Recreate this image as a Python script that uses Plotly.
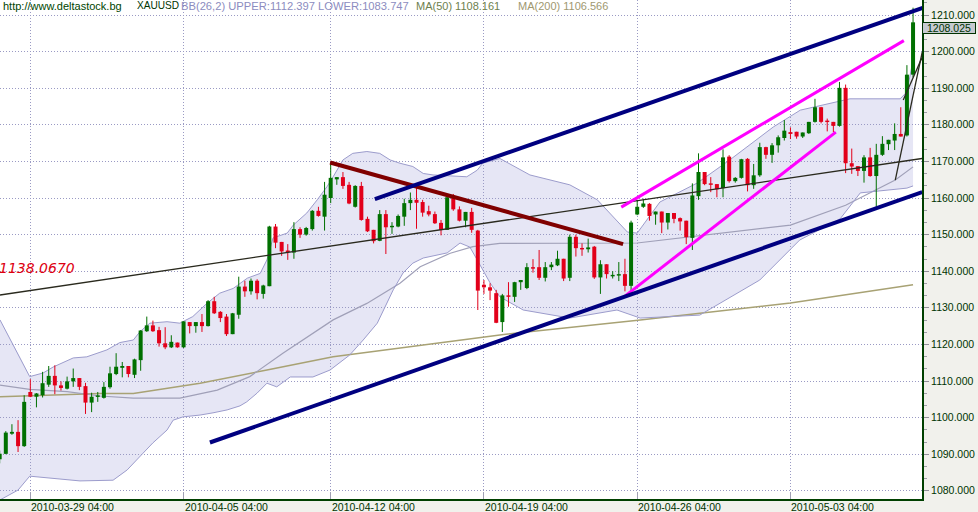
import plotly.graph_objects as go

# ---------------- data ----------------
candle_idx = list(range(-1, 149))
opens = [1088.6, 1090.1, 1095.6, 1096.1, 1092.2, 1107.0, 1105.7, 1106.1, 1109.0, 1111.4,
         1108.8, 1107.9, 1109.9, 1110.8, 1108.6, 1104.1, 1105.7, 1105.4, 1108.3, 1111.9,
         1113.6, 1114.1, 1111.7, 1115.7, 1123.6, 1125.2, 1123.9, 1120.3, 1119.2, 1120.5,
         1119.2, 1126.1, 1125.0, 1126.1, 1125.0, 1131.8, 1128.9, 1127.6, 1122.8, 1128.1,
         1135.8, 1134.5, 1137.4, 1133.8, 1135.9, 1152.2, 1148.0, 1145.6, 1145.1, 1151.5,
         1150.0, 1151.5, 1156.5, 1154.9, 1160.0, 1165.1, 1165.7, 1163.6, 1157.6, 1163.3,
         1154.3, 1151.3, 1148.3, 1155.6, 1152.0, 1152.2, 1154.9, 1158.6, 1159.5, 1158.9,
         1156.4, 1155.6, 1153.2, 1151.3, 1160.2, 1156.9, 1153.8, 1156.2, 1151.1, 1136.3,
         1135.6, 1134.0, 1126.1, 1133.4, 1133.0, 1137.0, 1135.4, 1141.1, 1141.1, 1138.2,
         1141.1, 1141.6, 1143.4, 1138.2, 1149.4, 1146.3, 1146.0, 1146.7, 1138.3, 1141.9,
         1138.6, 1138.8, 1139.2, 1136.0, 1155.5, 1157.6, 1158.4, 1155.5, 1156.3, 1153.3,
         1155.9, 1154.5, 1153.8, 1149.1, 1160.5, 1167.1, 1164.0, 1163.8, 1162.7, 1171.3,
         1164.6, 1165.5, 1170.7, 1163.5, 1166.2, 1173.9, 1171.8, 1174.4, 1176.4, 1178.0,
         1178.1, 1176.8, 1177.7, 1180.8, 1184.8, 1181.1, 1180.8, 1179.7, 1190.1, 1169.5,
         1168.7, 1167.4, 1171.1, 1166.0, 1171.8, 1174.7, 1175.7, 1177.5, 1177.1, 1193.7]
highs = [1091.0, 1096.3, 1098.2, 1099.3, 1106.1, 1110.5, 1106.7, 1112.5, 1114.1, 1114.3,
         1109.9, 1111.2, 1113.4, 1110.8, 1109.5, 1106.8, 1107.0, 1109.7, 1113.9, 1117.6,
         1115.2, 1114.1, 1116.1, 1123.9, 1127.6, 1126.5, 1124.8, 1124.7, 1122.5, 1120.5,
         1126.3, 1126.1, 1126.1, 1128.3, 1132.1, 1133.0, 1129.1, 1128.3, 1128.6, 1138.5,
         1137.4, 1138.0, 1137.8, 1136.3, 1152.4, 1152.9, 1148.0, 1147.4, 1153.4, 1152.0,
         1152.1, 1156.7, 1157.6, 1164.4, 1169.5, 1165.7, 1167.1, 1164.4, 1163.5, 1164.4,
         1154.9, 1151.3, 1156.7, 1156.7, 1153.4, 1155.5, 1159.8, 1161.5, 1163.1, 1159.5,
         1157.9, 1156.3, 1154.0, 1160.8, 1161.1, 1157.7, 1156.2, 1157.3, 1151.3, 1137.6,
         1136.7, 1134.9, 1133.8, 1137.0, 1137.1, 1137.6, 1142.2, 1143.3, 1145.8, 1142.5,
         1142.5, 1145.6, 1143.4, 1150.0, 1150.0, 1147.6, 1148.9, 1146.9, 1143.0, 1141.9,
         1140.0, 1142.5, 1143.4, 1153.8, 1159.5, 1159.8, 1158.6, 1156.3, 1156.3, 1155.9,
         1155.9, 1154.7, 1153.8, 1164.0, 1172.2, 1167.1, 1165.7, 1163.8, 1173.3, 1171.7,
         1165.7, 1170.7, 1170.9, 1169.3, 1175.1, 1174.0, 1175.0, 1177.1, 1181.3, 1179.3,
         1178.1, 1177.9, 1180.8, 1187.1, 1184.9, 1181.7, 1180.8, 1191.7, 1191.0, 1173.5,
         1168.7, 1171.7, 1173.7, 1174.8, 1176.9, 1175.9, 1180.4, 1184.8, 1196.3, 1212.0]
lows = [1087.5, 1090.0, 1095.3, 1090.6, 1092.0, 1105.6, 1102.8, 1105.5, 1108.4, 1106.4,
        1107.4, 1107.7, 1108.4, 1107.5, 1101.0, 1101.5, 1104.3, 1105.2, 1107.9, 1111.6,
        1111.0, 1111.0, 1110.8, 1112.8, 1123.4, 1123.4, 1119.4, 1118.7, 1119.0, 1119.1,
        1119.0, 1123.0, 1123.2, 1123.4, 1124.9, 1128.3, 1126.1, 1122.3, 1122.8, 1127.0,
        1133.0, 1133.6, 1132.3, 1132.5, 1135.9, 1146.3, 1144.2, 1143.1, 1143.4, 1149.1,
        1149.7, 1151.1, 1154.9, 1151.1, 1158.6, 1163.6, 1162.5, 1158.3, 1157.4, 1153.8,
        1150.7, 1147.6, 1148.2, 1144.7, 1150.2, 1152.0, 1152.4, 1156.7, 1151.6, 1154.9,
        1155.0, 1152.9, 1149.8, 1151.3, 1156.5, 1153.6, 1152.0, 1150.5, 1129.4, 1133.8,
        1132.1, 1125.8, 1123.4, 1130.3, 1131.6, 1134.9, 1135.1, 1139.6, 1137.6, 1137.2,
        1140.3, 1141.4, 1137.3, 1137.3, 1144.0, 1144.2, 1145.1, 1137.9, 1133.8, 1138.0,
        1138.0, 1137.3, 1134.5, 1134.3, 1155.3, 1157.3, 1153.8, 1152.7, 1150.4, 1151.4,
        1153.1, 1151.1, 1147.4, 1145.8, 1159.5, 1163.5, 1161.6, 1160.2, 1160.2, 1164.2,
        1164.2, 1165.3, 1161.8, 1162.5, 1165.8, 1170.7, 1169.6, 1172.4, 1175.7, 1176.1,
        1176.2, 1176.4, 1177.5, 1180.6, 1180.4, 1178.2, 1178.0, 1179.5, 1166.8, 1166.6,
        1166.0, 1164.2, 1165.8, 1157.6, 1171.5, 1173.1, 1173.1, 1176.8, 1176.8, 1193.0]
closes = [1090.1, 1095.9, 1096.1, 1092.2, 1104.3, 1105.7, 1106.6, 1109.4, 1111.4, 1108.8,
          1108.1, 1109.9, 1110.8, 1108.4, 1104.1, 1105.7, 1106.0, 1108.4, 1112.1, 1113.9,
          1114.1, 1111.9, 1115.9, 1123.8, 1125.2, 1123.6, 1120.3, 1119.2, 1120.7, 1119.2,
          1126.3, 1125.0, 1126.1, 1125.0, 1131.8, 1128.5, 1127.2, 1122.8, 1128.5, 1135.8,
          1134.5, 1137.4, 1134.0, 1136.1, 1152.2, 1147.8, 1145.4, 1145.3, 1151.5, 1150.0,
          1151.8, 1156.5, 1155.1, 1160.9, 1165.5, 1165.7, 1163.3, 1158.5, 1163.3, 1154.0,
          1150.9, 1148.2, 1155.6, 1152.0, 1152.4, 1155.1, 1158.6, 1159.5, 1158.7, 1156.0,
          1155.5, 1153.1, 1151.3, 1160.2, 1156.9, 1153.8, 1156.2, 1151.3, 1134.7, 1135.6,
          1134.7, 1125.9, 1133.4, 1133.0, 1137.0, 1137.6, 1141.1, 1140.7, 1138.2, 1141.1,
          1141.8, 1143.4, 1138.0, 1149.4, 1146.3, 1146.0, 1146.5, 1138.3, 1141.9, 1139.2,
          1139.0, 1139.2, 1136.0, 1153.3, 1157.6, 1158.5, 1155.1, 1156.3, 1153.3, 1155.9,
          1154.3, 1153.6, 1149.3, 1160.7, 1167.1, 1163.8, 1163.6, 1162.4, 1171.1, 1164.6,
          1165.5, 1170.6, 1163.5, 1166.2, 1173.9, 1171.8, 1174.4, 1176.6, 1178.4, 1177.5,
          1176.8, 1177.9, 1180.8, 1184.8, 1180.8, 1180.8, 1179.7, 1190.1, 1169.5, 1168.6,
          1167.4, 1171.1, 1166.0, 1171.8, 1174.8, 1175.9, 1177.5, 1176.8, 1193.7, 1208.0]

# Bollinger band (26,2) outline, sampled along the drawn curves
bb_upper_x = [-0.95, 2.3, 3.9, 6.1, 7.7, 11.0, 13.2, 16.5, 18.6, 20.8, 21.9, 23.5, 26.3, 28.4,
              30.5, 32.8, 34.9, 37.1, 39.4, 41.5, 42.6, 43.6, 45.9, 46.9, 49.1, 50.8, 52.4,
              53.4, 55.0, 56.6, 58.9, 61.0, 62.7, 64.3, 66.4, 68.1, 69.7, 75.2, 76.9, 77.8,
              80.6, 85.5, 92.0, 96.5, 99.1, 101.4, 103.0, 106.7, 112.8, 118.1, 125.2, 129.6,
              137.7, 145.9, 147.0, 148.0]
bb_upper_y = [1126.7, 1116.6, 1111.2, 1112.2, 1113.8, 1116.3, 1116.6, 1118.5, 1120.5, 1121.2,
              1123.5, 1125.8, 1126.2, 1125.8, 1127.6, 1131.2, 1134.0, 1135.3, 1138.1, 1139.4,
              1143.1, 1149.1, 1150.4, 1152.6, 1155.9, 1159.5, 1163.1, 1165.8, 1170.4, 1172.2,
              1172.7, 1172.2, 1170.4, 1169.5, 1168.6, 1166.7, 1166.3, 1165.8, 1167.6, 1169.5,
              1170.8, 1166.3, 1163.6, 1159.5, 1154.8, 1150.7, 1150.4, 1158.9, 1164.1, 1170.4,
              1179.4, 1184.0, 1187.1, 1187.1, 1189.0, 1197.7]
bb_lower_x = [-0.95, 2.0, 3.9, 7.2, 12.1, 17.5, 19.8, 22.4, 24.0, 26.3, 27.3, 28.9, 31.7, 33.8,
              36.1, 38.2, 39.3, 41.0, 42.6, 44.2, 46.4, 50.1, 52.9, 56.1, 58.3, 60.6, 62.2,
              63.2, 64.8, 66.4, 68.1, 72.0, 74.1, 75.7, 76.9, 79.0, 80.6, 84.4, 92.0, 99.7,
              103.5, 113.2, 123.0, 129.5, 136.1, 139.4, 147.0, 148.0]
bb_lower_y = [1077.5, 1080.2, 1084.0, 1083.5, 1082.7, 1082.9, 1085.7, 1090.3, 1093.1, 1096.6,
              1099.3, 1100.2, 1100.7, 1101.3, 1102.1, 1103.2, 1104.3, 1106.7, 1109.4, 1108.4,
              1111.1, 1111.1, 1113.0, 1117.1, 1121.2, 1125.8, 1131.3, 1134.9, 1139.5, 1142.2,
              1143.6, 1145.0, 1147.7, 1146.6, 1143.1, 1136.8, 1133.0, 1129.4, 1127.2, 1129.4,
              1127.2, 1128.0, 1137.6, 1148.5, 1154.3, 1161.4, 1162.7, 1163.3]

ma50_x = [-0.95, 3.9, 10.0, 15.4, 20.8, 28.4, 34.5, 39.8, 45.2, 50.8, 53.4, 58.9, 64.3, 67.6,
          72.5, 76.2, 80.6, 103.0, 128.0, 137.0, 145.1, 148.0]
ma50_y = [1108.9, 1107.7, 1107.1, 1105.9, 1105.3, 1105.3, 1107.5, 1111.2, 1117.6, 1123.9,
          1126.7, 1131.2, 1136.7, 1141.2, 1144.9, 1146.7, 1147.6, 1147.7, 1152.6, 1158.0,
          1164.9, 1168.5]

ma200_x = [-0.95, 15.4, 20.8, 31.7, 42.6, 53.4, 80.6, 103.5, 128.0, 148.0]
ma200_y = [1105.7, 1106.6, 1106.6, 1109.4, 1113.0, 1116.6, 1122.6, 1126.7, 1131.3, 1136.3]

week_ticks = [4, 29, 53, 78, 103, 128]
week_labels = ["2010-03-29 04:00", "2010-04-05 04:00", "2010-04-12 04:00",
               "2010-04-19 04:00", "2010-04-26 04:00", "2010-05-03 04:00"]

# hand-drawn study lines: (x0, y0, x1, y1)
navy_upper = (60.2, 1159.7, 153.2, 1214.1)
navy_lower = (33.3, 1093.2, 149.5, 1161.6)
maroon_line = (52.9, 1169.7, 100.7, 1147.4)
magenta_upper = (100.4, 1157.5, 146.5, 1203.0)
magenta_lower = (101.0, 1133.2, 135.4, 1178.0)
regression_line = (-0.95, 1133.5, 149.5, 1170.8)
steep_line_1 = (145.1, 1164.9, 149.5, 1199.9)
steep_line_2 = (146.4, 1186.8, 149.5, 1198.5)

last_price = 1208.025
level_label = 1138.067

# ---------------- figure ----------------
GREEN = "#007000"
RED = "#E2001A"
BAND = "#9C9CCC"
AXIS_TXT = "#003300"
Y_LO, Y_GRID_TOP, Y_HI = 1077.76, 1211.37, 1214.1

fig = go.Figure()

# band fill drawn under everything
path = "M " + " L ".join(f"{x},{y}" for x, y in zip(bb_upper_x, bb_upper_y))
path += " L " + " L ".join(f"{x},{y}" for x, y in zip(bb_lower_x[::-1], bb_lower_y[::-1])) + " Z"
fig.add_shape(type="path", xref="x", yref="y", path=path, fillcolor="#E6E6F5",
              line=dict(width=0), layer="below")

# header strip: hides the grid above the top price row
fig.add_shape(type="rect", xref="paper", yref="y", x0=0, x1=1, y0=Y_GRID_TOP, y1=Y_HI,
              fillcolor="#FFFFFF", line=dict(width=0), layer="between")

fig.add_trace(go.Scatter(x=ma200_x, y=ma200_y, mode="lines",
                         line=dict(color="#A8A274", width=1.5), hoverinfo="skip"))
fig.add_trace(go.Scatter(x=ma50_x, y=ma50_y, mode="lines",
                         line=dict(color="#A0A0B8", width=1.2), hoverinfo="skip"))
fig.add_trace(go.Scatter(x=bb_lower_x, y=bb_lower_y, mode="lines",
                         line=dict(color=BAND, width=1), hoverinfo="skip"))
fig.add_trace(go.Scatter(x=bb_upper_x, y=bb_upper_y, mode="lines",
                         line=dict(color=BAND, width=1), hoverinfo="skip"))


def candle_xy(up):
    bx, by, wx, wy = [], [], [], []
    for i, o, h, l, c in zip(candle_idx, opens, highs, lows, closes):
        if (c >= o) != up:
            continue
        lo, hi = min(o, c), max(o, c)
        if hi - lo < 0.4:
            m = (hi + lo) / 2
            lo, hi = m - 0.2, m + 0.2
        bx += [i, i, None]
        by += [lo, hi, None]
        wx += [i, i, None]
        wy += [l, h, None]
    return bx, by, wx, wy


for up, col in ((True, GREEN), (False, RED)):
    bx, by, wx, wy = candle_xy(up)
    fig.add_trace(go.Scatter(x=wx, y=wy, mode="lines", line=dict(color=col, width=1),
                             hoverinfo="skip"))
    fig.add_trace(go.Scatter(x=bx, y=by, mode="lines", line=dict(color=col, width=4),
                             hoverinfo="skip"))


def seg(line, color, width):
    x0, y0, x1, y1 = line
    fig.add_shape(type="line", xref="x", yref="y", x0=x0, y0=y0, x1=x1, y1=y1,
                  line=dict(color=color, width=width), layer="above")


seg(regression_line, "#2A2A1E", 1.3)
seg(steep_line_1, "#2A2A1E", 1.3)
seg(steep_line_2, "#2A2A1E", 1.3)
seg(maroon_line, "#800000", 4)
seg(magenta_upper, "#FF00FF", 3)
seg(magenta_lower, "#FF00FF", 3)
seg(navy_upper, "#000080", 4)
seg(navy_lower, "#000080", 4)

grid = "#9A9AC4"
fig.update_layout(
    width=978, height=512,
    margin=dict(l=0, r=56, t=0, b=13, autoexpand=False),
    paper_bgcolor="#F1F1EC", plot_bgcolor="#FFFFFF",
    showlegend=False,
    xaxis=dict(range=[-0.946, 149.46], tickmode="array", tickvals=week_ticks,
               showticklabels=False,
               showgrid=True, gridcolor=grid, griddash="1px,2px", gridwidth=1,
               ticks="inside", ticklen=7, tickcolor="#A0A0B4",
               showline=True, linecolor="#004000", linewidth=2, zeroline=False,
               fixedrange=True, automargin=False),
    yaxis=dict(side="right", range=[Y_LO, Y_HI], tick0=1080, dtick=10, tickformat=".3f",
               showgrid=True, gridcolor=grid, griddash="1px,2px", gridwidth=1,
               ticks="outside", ticklen=5, tickcolor="#909098",
               minor=dict(tick0=1080, dtick=10 / 3, ticks="outside", ticklen=3,
                          tickcolor="#A0A0A8", showgrid=False),
               showline=True, linecolor="#004000", linewidth=2, zeroline=False,
               tickfont=dict(family="Liberation Sans", size=10.5, color=AXIS_TXT),
               fixedrange=True, automargin=False),
)

# date labels, left-aligned at their week ticks
for t, lab in zip(week_ticks, week_labels):
    fig.add_annotation(xref="x", yref="paper", x=t, y=0, xanchor="left", yanchor="top",
                       yshift=-0.5, text=lab, showarrow=False, borderpad=0,
                       font=dict(family="Liberation Sans", size=10.5, color=AXIS_TXT))

header = [
    (2, "http://www.deltastock.bg", "#004400", 11),
    (136, "XAUUSD", "#003300", 10.1),
    (180, "BB(26,2) UPPER:1112.397 LOWER:1083.747", "#8C8CC0", 11.2),
    (415, "MA(50) 1108.161", "#6E7F4E", 11),
    (517, "MA(200) 1106.566", "#A09870", 11),
]
for px, txt, col, sz in header:
    fig.add_annotation(xref="paper", yref="paper", x=px / 922, y=1, xanchor="left",
                       xshift=-1, yanchor="middle", yshift=-5.5, text=txt, showarrow=False,
                       font=dict(family="Liberation Sans", size=sz, color=col))

fig.add_annotation(xref="paper", yref="y", x=1, y=last_price, xanchor="left", xshift=0,
                   yshift=-6, width=52, height=10, text=f"{last_price:.3f}", showarrow=False,
                   bgcolor="#C6CAD0", bordercolor="#003300", borderwidth=1, borderpad=0,
                   font=dict(family="Liberation Sans", size=10.5, color=AXIS_TXT))

fig.add_annotation(xref="paper", yref="y", x=0, y=level_label, xanchor="left", xshift=-3,
                   yshift=10, text=f"<i>{level_label:.4f}</i>", showarrow=False,
                   font=dict(family="DejaVu Sans", size=14, color="#DD0010"))

fig.write_html("out.html", config={"displayModeBar": False},
               post_script="document.body.style.margin='0';document.body.style.padding='0';")
